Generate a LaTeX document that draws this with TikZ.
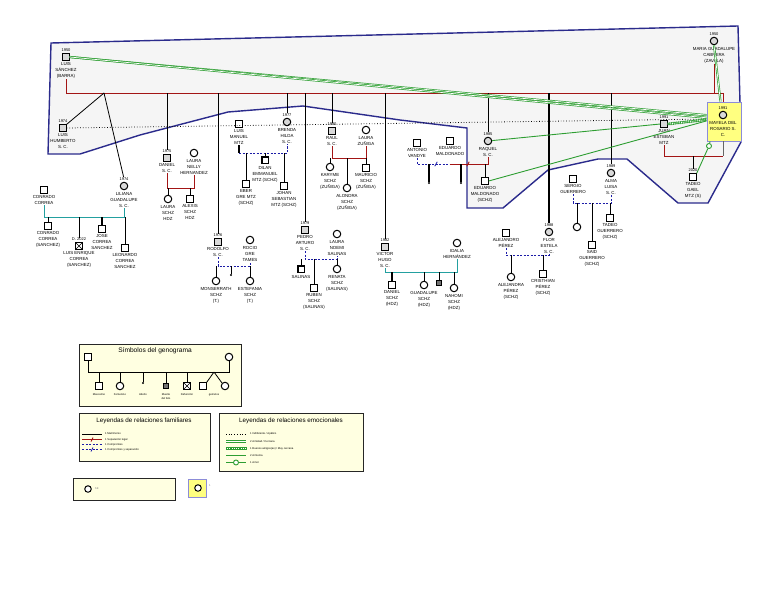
\documentclass[tikz,border=0pt]{standalone}
\usepackage{fontspec}
\setmainfont{Liberation Sans}
\usetikzlibrary{positioning}

\definecolor{sepred}{HTML}{A31515}
\definecolor{compblue}{HTML}{1C1CA8}
\definecolor{hogar}{HTML}{2B2B8C}
\definecolor{matteal}{HTML}{23A0A0}
\definecolor{emogreen}{HTML}{2E9E32}
\definecolor{leyfill}{HTML}{FFFFE1}
\definecolor{marca}{HTML}{FFFF80}
\definecolor{lavanda}{HTML}{8C8CD8}

\newcommand\genfont{\fontsize{4.4}{6}\selectfont}
\newcommand\yrfont{\fontsize{4}{5}\selectfont}
\newcommand\leyfont{\fontsize{2.7}{3.3}\selectfont}

\begin{document}
\begin{tikzpicture}[x=1pt, y=-1pt,
    masc/.style={draw, line width=0.9pt, minimum size=6.5pt, inner sep=0pt, fill=white},
    fem/.style={draw, circle, line width=1pt, minimum size=7.5pt, inner sep=0pt, fill=white},
    sc/.style={fill=gray!30},
    dead/.style={path picture={\draw[line width=0.6pt] (path picture bounding box.north west) -- (path picture bounding box.south east) (path picture bounding box.north east) -- (path picture bounding box.south west);}},
    feto/.style={draw, line width=0.7pt, minimum size=4.5pt, inner sep=0pt, fill=black!55},
    nom/.style={font=\genfont, align=center, inner sep=0pt},
    yr/.style={font=\yrfont, inner sep=0pt},
    matr/.style={line width=0.8pt},
    seplin/.style={draw=sepred, line width=0.9pt},
    comp/.style={draw=compblue, line width=0.9pt, dash pattern=on 2.2pt off 1.3pt},
    tealin/.style={draw=matteal, line width=1pt},
    abortdot/.style={circle, fill, inner sep=0pt, minimum size=2.2pt},
    indif/.style={line width=0.8pt, dash pattern=on 0.7pt off 2pt},
    amist/.style={draw=emogreen, line width=0.7pt, double=white, double distance=0.7pt},
    hatch/.style={draw=emogreen, line width=3pt, dash pattern=on 0.6pt off 1.2pt},
    armon/.style={draw=emogreen, line width=0.9pt},
    amorc/.style={circle, draw=emogreen, line width=0.9pt, fill=white, minimum size=5pt, inner sep=0pt},
    hogarpoly/.style={draw=hogar, line width=1.4pt, fill=black!4},
    leybox/.style={draw=black!85, line width=0.9pt, fill=leyfill, inner sep=0pt},
    leylab/.style={font=\leyfont, anchor=west, inner sep=0pt},
  ]
    \useasboundingbox (0,0) rectangle (768,594);
    \fill[white] (0,0) rectangle (768,594);

    % hogar
    \draw[hogarpoly] (51,43) -- (738,26) -- (741,142) -- (708,203) -- (678,203) -- (627,159)
      -- (598,159) -- (548,170) -- (503,208) -- (467,208) -- (467,128) -- (400,120)
      -- (303,106) -- (228,112) -- (140,135) -- (80,154) -- (48,154) -- cycle;

    % padres
    \node[masc, sc] (luis) at (66,57) {};
    \node[yr, above=1.5pt of luis] (luisY) {1950};
    \node[nom, below=2pt of luis] (luisL) {LUIS\\SÁNCHEZ\\(BARRA)};
    \node[fem, sc] (maria) at (714,41) {};
    \node[yr, above=1.5pt of maria] (mariaY) {1950};
    \node[nom, below=2pt of maria] (mariaL) {MARIA GUADALUPE\\CABRERA\\(ZAVALA)};

    \node[draw=lavanda, line width=0.9pt, fill=marca, minimum width=34pt, minimum height=39pt, inner sep=0pt] (mayelabox) at (724,121.5) {};
    \node[fem, sc] (mayela) at (723,115) {};
    \node[yr, above=1.5pt of mayela] (mayelaY) {1991};
    \node[nom, below=2pt of mayela] (mayelaL) {MAYELA DEL\\ROSARIO S.\\C.};

    % hijos S. C.
    \node[masc, sc] (luish) at (63,128) {};
    \node[yr, above=1.5pt of luish] (luishY) {1974};
    \node[nom, below=2pt of luish] (luishL) {LUIS\\HUMBERTO\\S. C.};
    \node[fem, sc] (lili) at (124,186) {};
    \node[yr, above=1.5pt of lili] (liliY) {1974};
    \node[nom, below=2pt of lili] (liliL) {LILIANA\\GUADALUPE\\S. C.};
    \node[masc, sc] (daniel) at (167,158) {};
    \node[yr, above=1.5pt of daniel] (danielY) {1975};
    \node[nom, below=2pt of daniel] (danielL) {DANIEL\\S. C.};
    \node[masc, sc] (rodolfo) at (218,242) {};
    \node[yr, above=1.5pt of rodolfo] (rodolfoY) {1976};
    \node[nom, below=2pt of rodolfo] (rodolfoL) {RODOLFO\\S. C.};
    \node[fem, sc] (brenda) at (287,122) {};
    \node[yr, above=1.5pt of brenda] (brendaY) {1977};
    \node[nom, below=2pt of brenda] (brendaL) {BRENDA\\HILDA\\S. C.};
    \node[masc, sc] (pedro) at (305,230) {};
    \node[yr, above=1.5pt of pedro] (pedroY) {1979};
    \node[nom, below=2pt of pedro] (pedroL) {PEDRO\\ARTURO\\S. C.};
    \node[masc, sc] (raul) at (332,131) {};
    \node[yr, above=1.5pt of raul] (raulY) {1980};
    \node[nom, below=2pt of raul] (raulL) {RAUL\\S. C.};
    \node[masc, sc] (victor) at (385,247) {};
    \node[yr, above=1.5pt of victor] (victorY) {1982};
    \node[nom, below=2pt of victor] (victorL) {VICTOR\\HUGO\\S. C.};
    \node[fem, sc] (raquel) at (488,141) {};
    \node[yr, above=1.5pt of raquel] (raquelY) {1985};
    \node[nom, below=2pt of raquel] (raquelL) {RAQUEL\\S. C.};
    \node[fem, sc] (flor) at (549,232) {};
    \node[yr, above=1.5pt of flor] (florY) {1988};
    \node[nom, below=2pt of flor] (florL) {FLOR\\ESTELA\\S. C.};
    \node[fem, sc] (alma) at (611,173) {};
    \node[yr, above=1.5pt of alma] (almaY) {1989};
    \node[nom, below=2pt of alma] (almaL) {ALMA\\LUISA\\S. C.};

    % parejas
    \node[masc] (conrado) at (44,190) {};
    \node[nom, below=2pt of conrado] (conradoL) {CONRADO\\CORREA};
    \node[fem] (laurann) at (194,153) {};
    \node[nom, below=2pt of laurann] (laurannL) {LAURA\\NELLY\\HERNANDEZ};
    \node[masc] (luism) at (239,124) {};
    \node[nom, below=2pt of luism] (luismL) {LUIS\\MANUEL\\MTZ};
    \node[fem] (lauraz) at (366,130) {};
    \node[nom, below=2pt of lauraz] (laurazL) {LAURA\\ZUÑIGA};
    \node[fem] (rocio) at (250,240) {};
    \node[nom, below=2pt of rocio] (rocioL) {ROCIO\\GRE\\TAMES};
    \node[fem] (lauran) at (337,234) {};
    \node[nom, below=2pt of lauran] (lauranL) {LAURA\\NOEMI\\SALINAS};
    \node[fem] (dalia) at (457,243) {};
    \node[nom, below=2pt of dalia] (daliaL) {IDALIA\\HERNÁNDEZ};
    \node[masc] (antonio) at (417,143) {};
    \node[nom, below=2pt of antonio] (antonioL) {ANTONIO\\VANDYE};
    \node[masc] (eduardo) at (450,141) {};
    \node[nom, below=2pt of eduardo] (eduardoL) {EDUARDO\\MALDONADO};
    \node[masc] (alejandro) at (506,233) {};
    \node[nom, below=2pt of alejandro] (alejandroL) {ALEJANDRO\\PÉREZ};
    \node[masc] (sergio) at (573,179) {};
    \node[nom, below=2pt of sergio] (sergioL) {SERGIO\\GUERRERO};
    \node[masc, sc] (juan) at (664,124) {};
    \node[yr, above=1.5pt of juan] (juanY) {1991};
    \node[nom, below=2pt of juan] (juanL) {JUAN\\ESTEBAN\\MTZ};

    % nietos
    \node[masc] (conrado2) at (48,226) {};
    \node[nom, below=2pt of conrado2] {CONRADO\\CORREA\\(SANCHEZ)};
    \node[masc, dead] (luise) at (79,246) {};
    \node[yr, above=1.5pt of luise] (luiseY) {D. 2022};
    \node[nom, below=2pt of luise] {LUIS ENRIQUE\\CORREA\\(SANCHEZ)};
    \node[masc] (jose) at (102,229) {};
    \node[nom, below=2pt of jose] {JOSE\\CORREA\\SANCHEZ};
    \node[masc] (leonardo) at (125,248) {};
    \node[nom, below=2pt of leonardo] {LEONARDO\\CORREA\\SANCHEZ};
    \node[fem] (laura3) at (168,199) {};
    \node[nom, below=2pt of laura3] {LAURA\\SCHZ\\HDZ};
    \node[masc] (alexis) at (190,199) {};
    \node[nom, below=2pt of alexis] {ALEXIS\\SCHZ\\HDZ};
    \node[masc, line width=1.5pt] (dilan) at (265,160) {};
    \node[nom, below=2pt of dilan] {DILAN\\EMMANUEL\\MTZ (SCHZ)};
    \node[masc] (eber) at (246,184) {};
    \node[nom, below=2pt of eber] {EBER\\GRE MTZ\\(SCHZ)};
    \node[masc] (johan) at (284,186) {};
    \node[nom, below=2pt of johan] {JOHAN\\SEBASTIAN\\MTZ (SCHZ)};
    \node[fem] (karyme) at (330,167) {};
    \node[nom, below=2pt of karyme] {KARYME\\SCHZ\\(ZUÑIGA)};
    \node[fem] (alondra) at (347,188) {};
    \node[nom, below=2pt of alondra] {ALONDRA\\SCHZ\\(ZUÑIGA)};
    \node[masc] (mauricio) at (366,168) {};
    \node[nom, below=2pt of mauricio] {MAURICIO\\SCHZ\\(ZUÑIGA)};
    \node[fem] (monse) at (216,281) {};
    \node[nom, below=2pt of monse] {MONSERRATH\\SCHZ\\(T.)};
    \node[fem] (estef) at (250,281) {};
    \node[nom, below=2pt of estef] {ESTEFANIA\\SCHZ\\(T.)};
    \node[masc, line width=1.5pt] (salinas) at (301,269) {};
    \node[nom, below=2pt of salinas] {SALINAS};
    \node[masc] (ruben) at (314,288) {};
    \node[nom, below=2pt of ruben] {RUBEN\\SCHZ\\(SALINAS)};
    \node[fem] (renata) at (337,269) {};
    \node[nom, below=2pt of renata] {RENATA\\SCHZ\\(SALINAS)};
    \node[masc] (eduardo2) at (485,181) {};
    \node[nom, below=2pt of eduardo2] {EDUARDO\\MALDONADO\\(SCHZ)};
    \node[masc] (daniel2) at (392,285) {};
    \node[nom, below=2pt of daniel2] {DANIEL\\SCHZ\\(HDZ)};
    \node[fem] (guadalupe) at (424,285) {};
    \node[nom, below=2pt of guadalupe] {GUADALUPE\\SCHZ\\(HDZ)};
    \node[feto] (feto1) at (439,283) {};
    \node[fem] (nahomi) at (454,288) {};
    \node[nom, below=2pt of nahomi] {NAHOMI\\SCHZ\\(HDZ)};
    \node[fem] (alejandra) at (511,277) {};
    \node[nom, below=2pt of alejandra] {ALEJANDRA\\PÉREZ\\(SCHZ)};
    \node[masc] (cristhian) at (543,274) {};
    \node[nom, below=2pt of cristhian] {CRISTHIAN\\PÉREZ\\(SCHZ)};
    \node[fem] (nena) at (577,227) {};
    \node[masc] (said) at (592,245) {};
    \node[nom, below=2pt of said] {SAID\\GUERRERO\\(SCHZ)};
    \node[masc] (tadeo) at (610,218) {};
    \node[nom, below=2pt of tadeo] {TADEO\\GUERRERO\\(SCHZ)};
    \node[masc] (tadeog) at (693,177) {};
    \node[yr, above=1.5pt of tadeog] (tadeogY) {2020};
    \node[nom, below=2pt of tadeog] {TADEO\\GAEL\\MTZ (S)};

    % abortos
    \node[abortdot] (ab1) at (231,275) {};
    \node[abortdot] (ab2) at (429,183) {};
    \node[abortdot] (ab3) at (461,183) {};

    % familia Sanchez Cabrera
    \coordinate (fam0) at (0,93);
    \coordinate (twin) at (104,93);
    \draw[seplin] (luisL) -- (luisL |- fam0) -- (mayela |- fam0) -- (mayela |- mayelabox.north);
    \draw[seplin] (mariaL) -- (mariaL |- fam0);
    \draw[matr] (twin) -- (luish.north east);
    \draw[matr] (twin) -- (liliY);
    \draw[matr] (danielY) -- (danielY |- fam0);
    \draw[matr] (rodolfoY) -- (rodolfoY |- fam0);
    \draw[matr] (brendaY) -- (brendaY |- fam0);
    \draw[matr] (pedroY) -- (pedroY |- fam0);
    \draw[matr] (raulY) -- (raulY |- fam0);
    \draw[matr] (victorY) -- (victorY |- fam0);
    \draw[matr] (raquelY) -- (raquelY |- fam0);
    \draw[matr, line width=1.3pt] (florY) -- (florY |- fam0);
    \draw[matr] (almaY) -- (almaY |- fam0);

    % Conrado y Liliana
    \coordinate (famC) at (0,217);
    \draw[tealin] (conradoL) -- (conradoL |- famC) -- (liliL |- famC) -- (liliL);
    \draw[matr] (conrado2) -- (conrado2 |- famC);
    \draw[matr] (luiseY) -- (luiseY |- famC);
    \draw[matr, line width=1.4pt] (jose) -- (jose |- famC);
    \draw[matr] (leonardo) -- (leonardo |- famC);

    % Daniel y Laura Nelly
    \coordinate (famD) at (0,188);
    \draw[seplin] (danielL) -- (danielL |- famD) -- (laurannL |- famD) -- (laurannL);
    \draw[matr] (laura3) -- (laura3 |- famD);
    \draw[matr] (alexis) -- (alexis |- famD);

    % Luis Manuel y Brenda
    \coordinate (famB) at (0,153);
    \draw[matr, line width=1.5pt] (luismL) -- (luismL |- famB);
    \draw[comp] (luismL |- famB) -- (brendaL |- famB) -- (brendaL);
    \draw[matr] (dilan) -- (dilan |- famB);
    \draw[matr] (eber) -- (eber |- famB);
    \draw[matr] (johan) -- (johan |- famB);

    % Raul y Laura
    \coordinate (famR) at (0,158);
    \draw[seplin] (raulL) -- (raulL |- famR) -- (laurazL |- famR) -- (laurazL);
    \draw[matr] (karyme) -- (karyme |- famR);
    \draw[matr] (alondra) -- (alondra |- famR);
    \draw[matr] (mauricio) -- (mauricio |- famR);

    % Rodolfo y Rocio
    \coordinate (famRo) at (0,266);
    \draw[comp] (rodolfoL) -- (rodolfoL |- famRo) -- (rocioL |- famRo) -- (rocioL);
    \draw[matr] (ab1) -- (ab1 |- famRo);
    \draw[matr] (monse) -- (monse |- famRo);
    \draw[matr] (estef) -- (estef |- famRo);

    % Pedro y Laura Noemi
    \coordinate (famP) at (0,259);
    \draw[comp] (pedroL) -- (pedroL |- famP) -- (lauranL |- famP) -- (lauranL);
    \draw[matr] (salinas) -- (salinas |- famP);
    \draw[matr] (ruben) -- (ruben |- famP);
    \draw[matr] (renata) -- (renata |- famP);

    % Victor y Dalia
    \coordinate (famV) at (0,272);
    \draw[tealin] (victorL) -- (victorL |- famV) -- (daliaL |- famV) -- (daliaL);
    \draw[matr, line width=1.4pt] (daniel2) -- (daniel2 |- famV);
    \draw[matr] (guadalupe) -- (guadalupe |- famV);
    \draw[matr] (feto1) -- (feto1 |- famV);
    \draw[matr] (nahomi) -- (nahomi |- famV);

    % Raquel, Antonio y Eduardo
    \coordinate (famQ) at (0,164);
    \coordinate (sepQ) at (468,164);
    \coordinate (sepA) at (436,164);
    \draw[comp] (antonioL) -- (antonioL |- famQ) -- (eduardoL |- famQ);
    \draw[compblue, line width=0.8pt] ([xshift=-1.2pt,yshift=-2.2pt]sepA) -- ([xshift=1.2pt,yshift=2.2pt]sepA);
    \draw[seplin] (eduardoL |- famQ) -- (raquelL |- famQ) -- (raquelL);
    \draw[seplin] ([xshift=-1.2pt,yshift=-2.2pt]sepQ) -- ([xshift=1.2pt,yshift=2.2pt]sepQ);
    \draw[matr, line width=1.3pt] (ab2) -- (ab2 |- famQ);
    \draw[matr, line width=1.3pt] (ab3) -- (ab3 |- famQ);
    \draw[matr] (eduardo2) -- (eduardo2 |- famQ);

    % Alejandro y Flor
    \coordinate (famF) at (0,255);
    \draw[comp] (alejandroL) -- (alejandroL |- famF) -- (florL |- famF) -- (florL);
    \draw[matr] (alejandra) -- (alejandra |- famF);
    \draw[matr] (cristhian) -- (cristhian |- famF);

    % Sergio y Alma
    \coordinate (famA) at (0,203);
    \draw[comp] (sergioL) -- (sergioL |- famA) -- (almaL |- famA) -- (almaL);
    \draw[matr] (nena) -- (nena |- famA);
    \draw[matr] (said) -- (said |- famA);
    \draw[matr] (tadeo) -- (tadeo |- famA);

    % Juan y Mayela
    \coordinate (famJ) at (0,156);
    \draw[seplin] (juanL) -- (juanL |- famJ) -- (mayela |- famJ);
    \draw[black!60, line width=0.9pt] (mayela |- mayelabox.south) -- (mayela |- famJ);
    \draw[matr] (tadeogY) -- (tadeogY |- famJ);

    % relaciones emocionales
    \draw[indif] (luish.east) -- (mayelabox.172);
    \draw[amist] (luis.east) -- (mayelabox.160);
    \draw[amist] (luis.east) -- (mayelabox.168);
    \draw[amist] (maria.south) -- (mayelabox.100);
    \draw[amist] (juan.east) -- (mayelabox.174);
    \draw[hatch] (juan.east) -- (mayelabox.174);
    \draw[armon] (raquel) -- (juan.west);
    \draw[armon] (eduardo2.east) -- (mayelabox.178);
    \node[amorc] (amor) at (709,146) {};
    \draw[armon] (mayelabox.235) -- (amor) -- (tadeog.north east);

    % simbolos
    \node[leybox, minimum width=162pt, minimum height=62pt] (leg1) at (160,375) {};
    \node[font=\fontsize{6.6}{7}\selectfont, inner sep=0pt] (leg1T) at (155,351) {Símbolos del genograma};
    \node[masc] (lgP) at (88,357) {};
    \node[fem] (lgM) at (229,357) {};
    \coordinate (lgfam) at (0,372);
    \coordinate (lgTw) at (214,372);
    \draw[matr] (lgP) -- (lgP |- lgfam) -- (lgM |- lgfam) -- (lgM);
    \node[masc] (lgMasc) at (99,386) {};
    \node[fem] (lgFem) at (120,386) {};
    \node[abortdot] (lgAb) at (143,383) {};
    \node[feto] (lgFeto) at (166,386) {};
    \node[masc, dead] (lgDef) at (187,386) {};
    \node[masc] (lgG1) at (203,386) {};
    \node[fem] (lgG2) at (225,386) {};
    \draw[matr] (lgMasc) -- (lgMasc |- lgfam);
    \draw[matr] (lgFem) -- (lgFem |- lgfam);
    \draw[matr] (lgAb) -- (lgAb |- lgfam);
    \draw[matr] (lgFeto) -- (lgFeto |- lgfam);
    \draw[matr] (lgDef) -- (lgDef |- lgfam);
    \draw[matr] (lgTw) -- (lgG1.north east);
    \draw[matr] (lgTw) -- (lgG2.north west);
    \node[font=\leyfont, inner sep=0pt] at (99,395) {Masculino};
    \node[font=\leyfont, inner sep=0pt] at (120,395) {Femenino};
    \node[font=\leyfont, inner sep=0pt] at (143,395) {Aborto};
    \node[font=\leyfont, inner sep=0pt, align=center] at (166,396.5) {Muerte\\del feto};
    \node[font=\leyfont, inner sep=0pt] at (187,395) {Defunción};
    \node[font=\leyfont, inner sep=0pt] at (214,395) {gemelos};

    % relaciones familiares
    \node[leybox, minimum width=131pt, minimum height=48pt] (leg2) at (144.5,437) {};
    \node[font=\fontsize{6.3}{7}\selectfont, inner sep=0pt] (leg2T) at (144,421) {Leyendas de relaciones familiares};
    \node[leylab] (lf1) at (105,434) {1 Matrimonio};
    \node[leylab] (lf2) at (105,439.5) {1 Separación legal};
    \node[leylab] (lf3) at (105,444.5) {1 Compromiso};
    \node[leylab] (lf4) at (105,449.5) {1 Compromiso y separación};
    \draw[matr] ([xshift=-23pt]lf1.west) -- ([xshift=-3pt]lf1.west);
    \draw[seplin] ([xshift=-23pt]lf2.west) -- ([xshift=-3pt]lf2.west);
    \draw[seplin] ([xshift=-14pt,yshift=-2pt]lf2.west) -- ([xshift=-12pt,yshift=2pt]lf2.west);
    \draw[comp] ([xshift=-23pt]lf3.west) -- ([xshift=-3pt]lf3.west);
    \draw[comp] ([xshift=-23pt]lf4.west) -- ([xshift=-3pt]lf4.west);
    \draw[compblue, line width=0.8pt] ([xshift=-14pt,yshift=-2pt]lf4.west) -- ([xshift=-12pt,yshift=2pt]lf4.west);

    % relaciones emocionales
    \node[leybox, minimum width=144pt, minimum height=58pt] (leg3) at (291,442) {};
    \node[font=\fontsize{6.3}{7}\selectfont, inner sep=0pt] (leg3T) at (291,421) {Leyendas de relaciones emocionales};
    \node[leylab] (le1) at (250,434) {1 Indiferente / Apático};
    \node[leylab] (le2) at (250,441.5) {2 Amistad / Cercana};
    \node[leylab] (le3) at (250,448.5) {1 Buenos amigos(as) / Muy cercana};
    \node[leylab] (le4) at (250,455.5) {2 Armonía};
    \node[leylab] (le5) at (250,462.5) {1 Amor};
    \draw[indif] ([xshift=-24pt]le1.west) -- ([xshift=-4pt]le1.west);
    \draw[amist] ([xshift=-24pt]le2.west) -- ([xshift=-4pt]le2.west);
    \draw[amist] ([xshift=-24pt]le3.west) -- ([xshift=-4pt]le3.west);
    \draw[hatch] ([xshift=-24pt]le3.west) -- ([xshift=-4pt]le3.west);
    \draw[armon] ([xshift=-24pt]le4.west) -- ([xshift=-4pt]le4.west);
    \node[amorc] (le5c) at (236,462.5) {};
    \draw[armon] ([xshift=-24pt]le5.west) -- (le5c) -- ([xshift=-4pt]le5.west);

    % otros
    \node[leybox, minimum width=102pt, minimum height=22pt] (leg4) at (124,489) {};
    \node[fem, minimum size=6.5pt] (lg4c) at (88,489) {};
    \node[leylab, text=black!50, right=3pt of lg4c] {SE};
    \node[draw=lavanda, line width=0.9pt, fill=marca, minimum size=18pt, inner sep=0pt] (leg5) at (197.5,488.5) {};
    \node[fem, minimum size=6.5pt] (lg5c) at (198,488) {};
    \node[leylab, text=black!50] at (209,486) {1};
\end{tikzpicture}
\end{document}
